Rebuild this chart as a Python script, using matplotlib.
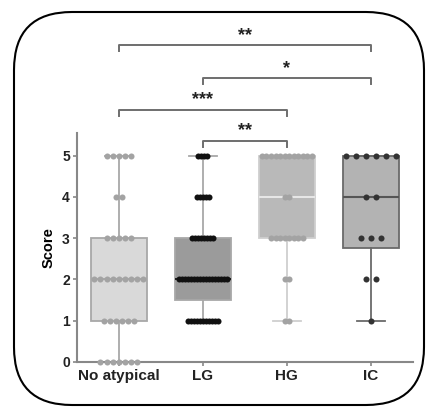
import numpy as np
import matplotlib
matplotlib.use('Agg')
import matplotlib.pyplot as plt
from matplotlib.patches import FancyBboxPatch

plt.rcParams['font.family'] = ['Liberation Sans', 'DejaVu Sans']

# groups and score counts (score value -> number of patients)
groups = ['No atypical', 'LG', 'HG', 'IC']
scores = [0, 1, 2, 3, 4, 5]
counts = {
    'No atypical': [7, 6, 9, 5, 2, 5],
    'LG':          [0, 11, 17, 8, 5, 4],
    'HG':          [0, 2, 2, 8, 2, 12],
    'IC':          [0, 1, 2, 3, 2, 6],
}

# significance brackets: (left group, right group, label)
pairs = [('LG', 'HG', '**'), ('No atypical', 'HG', '***'),
         ('LG', 'IC', '*'), ('No atypical', 'IC', '**')]
bracket_y = [5.36, 6.12, 6.88, 7.68]

# style per group
box_face = ['#d9d9d9', '#9b9b9b', '#b9b9b9', '#b3b3b3']
box_edge = ['#a8a8a8', '#a8a8a8', '#cfcfcf', '#6a6a6a']
med_col = ['#a8a8a8', '#222222', '#e6e6e6', '#555555']
dot_col = ['#a3a3a3', '#111111', '#a3a3a3', '#333333']
dot_gap = [0.073, 0.036, 0.054, 0.12]

fig = plt.figure(figsize=(4.27, 4.08), dpi=100)

# rounded frame around the panel
bg = fig.add_axes([0, 0, 1, 1])
bg.set_xlim(0, 427)
bg.set_ylim(0, 408)
bg.axis('off')
bg.add_patch(FancyBboxPatch((14, 3), 410, 393,
                            boxstyle='round,pad=0,rounding_size=58',
                            fc='none', ec='black', lw=1.5))

ax = fig.add_axes([0.18, 0.113, 0.787, 0.561])

stats = []
for g in groups:
    vals = np.repeat(scores, counts[g])
    q1, med, q3 = np.percentile(vals, [25, 50, 75], method='weibull')
    stats.append(dict(med=med, q1=q1, q3=q3, whislo=vals.min(),
                      whishi=vals.max(), fliers=[], label=g))

pos = np.arange(len(groups))
for i, s in enumerate(stats):
    ax.bxp([s], positions=[i], widths=0.66, patch_artist=True,
           showfliers=False,
           boxprops=dict(fc=box_face[i], ec=box_edge[i], lw=1.3),
           whiskerprops=dict(color=box_edge[i], lw=1.3),
           capprops=dict(color=box_edge[i], lw=1.3),
           medianprops=dict(color=med_col[i], lw=1.5),
           capwidths=0.33, zorder=2)

# dots, one row per score
for i, g in enumerate(groups):
    for v, n in zip(scores, counts[g]):
        if n == 0:
            continue
        xs = i + (np.arange(n) - (n - 1) / 2) * dot_gap[i]
        ax.scatter(xs, np.full(n, v), s=19, color=dot_col[i],
                   lw=0, zorder=3, clip_on=False)

# significance brackets
for (a, b, lab), y in zip(pairs, bracket_y):
    x1, x2 = groups.index(a), groups.index(b)
    ax.plot([x1, x1, x2, x2], [y - 0.15, y, y, y - 0.15], color='#6e6e6e',
            lw=1.4, clip_on=False)
    ax.text((x1 + x2) / 2, y + 0.24, lab, ha='center', va='center',
            fontsize=13, fontweight='bold', color='#222222')

ax.set_xlim(-0.5, 3.5)
ax.set_ylim(0, 5.55)
ax.set_xticks(pos)
ax.set_xticklabels(groups, fontsize=11, fontweight='bold')
ax.set_yticks(range(6))
ax.set_yticklabels([str(t) for t in range(6)], fontsize=10, fontweight='bold')
ax.set_ylabel('Score', fontsize=10.5, fontweight='bold', labelpad=5)
for sp in ['top', 'right']:
    ax.spines[sp].set_visible(False)
for sp in ['left', 'bottom']:
    ax.spines[sp].set_color('#888888')
    ax.spines[sp].set_linewidth(1.5)
ax.tick_params(axis='both', colors='#888888', length=3, width=1.2,
               labelcolor='#222222', pad=2)

fig.savefig('out.png', dpi=100)
